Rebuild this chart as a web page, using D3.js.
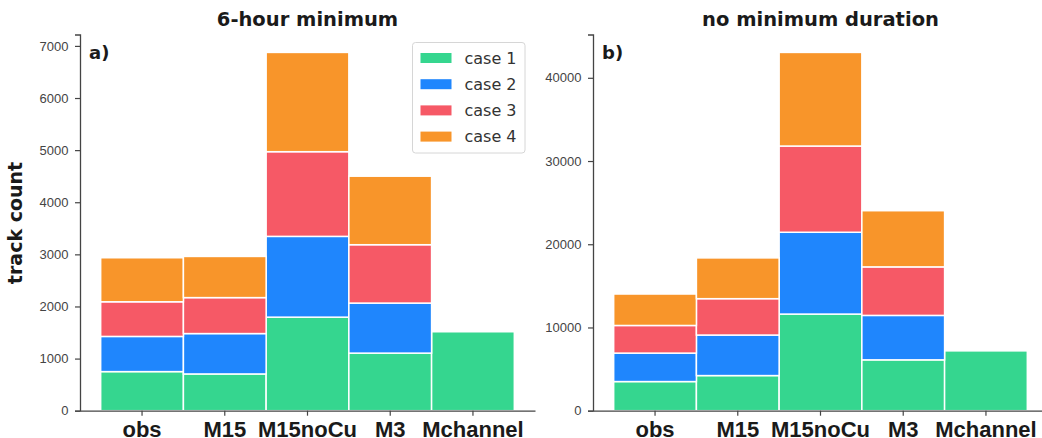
<!DOCTYPE html>
<html>
<head>
<meta charset="utf-8">
<script src="https://cdn.jsdelivr.net/npm/d3@7"></script>
<style>
  body { margin: 0; background: #fff; }
  svg { display: block; font-family: "DejaVu Sans", sans-serif; }
</style>
</head>
<body>
<svg id="chart" width="1042" height="438"></svg>
<script>
// categories + series
var categories = ["obs", "M15", "M15noCu", "M3", "Mchannel"];
var caseNames = ["case 1", "case 2", "case 3", "case 4"];
var caseColors = ["#35d68f", "#1f86fd", "#f65966", "#f8952a"];

// panel a) 6-hour minimum
var minCase1 = [750, 705, 1795, 1105, 1515];
var minCase2 = [675, 775, 1550, 960, 0];
var minCase3 = [665, 690, 1625, 1120, 0];
var minCase4 = [845, 790, 1905, 1315, 0];
var minTicks = [0, 1000, 2000, 3000, 4000, 5000, 6000, 7000];

// panel b) no minimum duration
var allCase1 = [3500, 4220, 11610, 6110, 7190];
var allCase2 = [3420, 4870, 9830, 5340, 0];
var allCase3 = [3320, 4370, 10360, 5830, 0];
var allCase4 = [3780, 4900, 11250, 6750, 0];
var allTicks = [0, 10000, 20000, 30000, 40000];

var svg = d3.select("#chart");
var plotTop = 34.5, plotBottom = 410.7;

function toRows(series){
  return categories.map(function(c, i){
    var row = {cat: c};
    caseNames.forEach(function(k, j){ row[k] = series[j][i]; });
    return row;
  });
}

function drawPanel(opts){
  var rows = toRows(opts.series);
  var stacked = d3.stack().keys(caseNames)(rows);
  var maxTotal = d3.max(rows, function(r){ return d3.sum(caseNames, function(k){ return r[k]; }); });

  var x = d3.scaleBand().domain(categories)
      .range([opts.left, opts.right]).paddingInner(0).paddingOuter(0.25);
  var y = d3.scaleLinear().domain([0, maxTotal * 1.05]).range([plotBottom, plotTop]);

  var g = svg.append("g");

  g.selectAll("g.layer").data(stacked).enter().append("g")
      .attr("class", "layer")
      .attr("fill", function(d, i){ return caseColors[i]; })
    .selectAll("rect").data(function(d){ return d; }).enter().append("rect")
      .attr("x", function(d){ return x(d.data.cat); })
      .attr("width", x.bandwidth())
      .attr("y", function(d){ return y(d[1]); })
      .attr("height", function(d){ return y(d[0]) - y(d[1]); })
      .attr("stroke", "#fff")
      .attr("stroke-width", 1.5);

  // y axis
  var yAxis = g.append("g")
      .attr("transform", "translate(" + opts.left + ",0)")
      .call(d3.axisLeft(y).tickValues(opts.ticks).tickFormat(d3.format("d")).tickSize(5).tickPadding(6.5));
  yAxis.select(".domain").attr("stroke", "#444").attr("stroke-width", 1.3);
  yAxis.selectAll(".tick line").attr("stroke", "#444").attr("stroke-width", 1.2);
  yAxis.selectAll(".tick text").attr("font-size", 13).attr("fill", "#444");

  // x axis
  var xAxis = g.append("g")
      .attr("transform", "translate(0," + plotBottom + ")")
      .call(d3.axisBottom(x).tickSize(5).tickPadding(5.5).tickSizeOuter(0));
  xAxis.select(".domain").attr("stroke", "#444").attr("stroke-width", 1.3);
  xAxis.selectAll(".tick line").attr("stroke", "#444").attr("stroke-width", 1.2);
  xAxis.selectAll(".tick text").attr("font-size", 22).attr("font-weight", "bold").attr("fill", "#1a1a1a");

  // title + panel letter
  svg.append("text")
      .attr("x", (opts.left + opts.right) / 2).attr("y", 26)
      .attr("text-anchor", "middle")
      .attr("font-size", 19.5).attr("font-weight", "bold").attr("fill", "#1a1a1a")
      .text(opts.title);
  svg.append("text")
      .attr("x", opts.left + 9).attr("y", 58.5)
      .attr("font-size", 18).attr("font-weight", "bold").attr("fill", "#1a1a1a")
      .text(opts.letter);
}

drawPanel({left: 80, right: 535, series: [minCase1, minCase2, minCase3, minCase4],
           ticks: minTicks, title: "6-hour minimum", letter: "a)"});
drawPanel({left: 593, right: 1048, series: [allCase1, allCase2, allCase3, allCase4],
           ticks: allTicks, title: "no minimum duration", letter: "b)"});

// y label
svg.append("text")
    .attr("transform", "translate(22,223) rotate(-90)")
    .attr("text-anchor", "middle")
    .attr("font-size", 19).attr("font-weight", "bold").attr("fill", "#1a1a1a")
    .text("track count");

// legend (left panel)
var legend = svg.append("g").attr("transform", "translate(412.5,42.5)");
legend.append("rect")
    .attr("width", 112.5).attr("height", 110.5).attr("rx", 3)
    .attr("fill", "#fff").attr("fill-opacity", 0.85)
    .attr("stroke", "#d6d6d6").attr("stroke-width", 1);
var items = legend.selectAll("g.item").data(caseNames).enter().append("g")
    .attr("class", "item")
    .attr("transform", function(d, i){ return "translate(0," + (15.5 + i * 26.2) + ")"; });
items.append("rect")
    .attr("x", 8).attr("y", -5).attr("width", 31).attr("height", 10)
    .attr("fill", function(d, i){ return caseColors[i]; });
items.append("text")
    .attr("x", 52).attr("y", 0).attr("dy", "0.35em")
    .attr("font-size", 16).attr("fill", "#333")
    .text(function(d){ return d; });
</script>
</body>
</html>
